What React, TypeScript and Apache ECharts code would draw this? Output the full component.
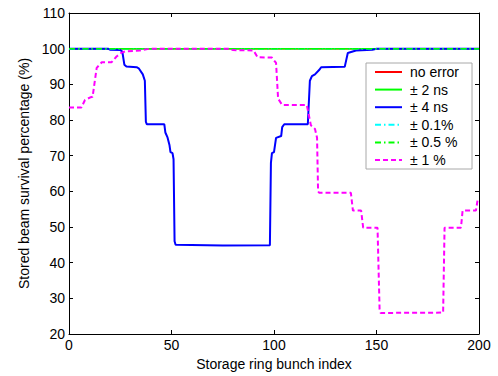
import React, { useEffect, useRef } from "react";
import * as echarts from "echarts";

// ---- Data ----
const xTicks = [0, 50, 100, 150, 200];
const yTicks = [20, 30, 40, 50, 60, 70, 80, 90, 100, 110];

const seriesNames = ["no error", "\u00b1 2 ns", "\u00b1 4 ns", "\u00b1 0.1%", "\u00b1 0.5 %", "\u00b1 1 %"];

// no error
const noErrorX = [0, 200];
const noErrorY = [100, 100];
// ± 2 ns
const ns2X = [0, 200];
const ns2Y = [100, 100];
// ± 4 ns
const ns4X = [0, 19, 20, 25, 26, 27, 28, 33, 34, 36, 37, 37.5, 38, 46.5, 47, 48, 49, 49.5, 50.5, 51, 51.5, 52, 75, 98, 98.5, 99, 100, 101, 103.5, 104, 105, 116.5, 117.5, 118.5, 120, 122, 123, 134.5, 136, 140, 148, 150, 200];
const ns4Y = [100, 100, 99.7, 99.6, 99.2, 95.5, 95, 94.8, 94.5, 92.8, 91, 79.5, 78.8, 78.8, 76.5, 75.2, 73, 71, 70.7, 69, 46, 45, 44.8, 44.9, 68, 70.7, 71, 75, 75.5, 78, 78.8, 78.8, 91, 92.3, 92.8, 94, 94.8, 94.9, 98.8, 99.5, 99.7, 100, 100];
// ± 0.1 %
const pct01X = [0, 200];
const pct01Y = [100, 100];
// ± 0.5 %
const pct05X = [0, 200];
const pct05Y = [100, 100];
// ± 1 %
const pct1X = [0, 6, 7.8, 10.2, 11.5, 13.5, 16, 20.8, 23.2, 25.7, 27.3, 34.6, 39.5, 78, 80, 90, 92, 99, 101, 102, 104, 116, 118, 120, 121, 121.5, 122, 137.5, 138.5, 142.5, 143.5, 150.5, 151.5, 152, 182.5, 183.2, 191.2, 192, 198.5, 199.3, 200];
const pct1Y = [83.5, 83.5, 85.6, 86.3, 86.5, 94.6, 96.2, 96.2, 97.8, 98.9, 99.2, 99.5, 100, 100, 99.6, 99.5, 97.6, 97.5, 96, 86, 84.2, 84.2, 78.5, 77.5, 75, 60, 59.6, 59.6, 54.6, 54.6, 49.8, 49.8, 27, 25.9, 26, 49.8, 49.8, 54.6, 54.6, 57.5, 58];

const colors = ["#ff0000", "#00ff00", "#0000ff", "#00ffff", "#00ff00", "#ff00ff"];

const zip = (xs: number[], ys: number[]) => xs.map((x, i) => [x, ys[i]]);

const FONT = "'Liberation Sans', Arial, Helvetica, sans-serif";

export default function App() {
  const ref = useRef<HTMLDivElement>(null);

  useEffect(() => {
    if (!ref.current) return;
    const chart = echarts.init(ref.current, undefined, { renderer: "svg" });

    const xs = [noErrorX, ns2X, ns4X, pct01X, pct05X, pct1X];
    const ys = [noErrorY, ns2Y, ns4Y, pct01Y, pct05Y, pct1Y];
    const types: any[] = ["solid", "solid", "solid", [6, 3, 1.5, 3], [6, 3, 1.5, 3], [5, 3]];
    const widths = [1.5, 1.5, 2, 1.5, 1.5, 2];

    const series = seriesNames.map((name, i) => ({
      name,
      type: "line",
      data: zip(xs[i], ys[i]),
      symbol: "none",
      showSymbol: false,
      xAxisIndex: 0,
      yAxisIndex: 0,
      lineStyle: { color: colors[i], width: widths[i], type: types[i] },
      itemStyle: { color: colors[i] },
      z: 2 + i,
    }));

    const axisLine = { show: true, onZero: false, lineStyle: { color: "#000", width: 1 } };
    const axisTick = { show: true, inside: true, length: 4, lineStyle: { color: "#000", width: 1 } };

    chart.setOption({
      animation: false,
      textStyle: { fontFamily: FONT },
      grid: { left: 69, top: 13, right: 19, bottom: 40, containLabel: false },
      legend: {
        orient: "vertical",
        left: 366,
        top: 63,
        data: seriesNames,
        itemWidth: 27,
        itemHeight: 14,
        itemGap: 3.6,
        padding: [2, 13, 2, 8],
        backgroundColor: "#fff",
        borderColor: "#a8a8a8",
        borderWidth: 1,
        borderRadius: 0,
        selectedMode: false,
        itemStyle: { color: "transparent", borderWidth: 0, opacity: 0 },
        textStyle: { fontFamily: FONT, fontSize: 14, color: "#000", padding: [0, 0, 0, 3] },
      },
      xAxis: [
        {
          type: "value",
          min: 0,
          max: 200,
          interval: 50,
          position: "bottom",
          name: "Storage ring bunch index",
          nameLocation: "middle",
          nameGap: 23,
          nameTextStyle: { fontFamily: FONT, fontSize: 14, color: "#000" },
          axisLine,
          axisTick,
          axisLabel: { fontFamily: FONT, fontSize: 14, color: "#000", margin: 4 },
          splitLine: { show: false },
        },
        {
          type: "value",
          min: 0,
          max: 200,
          interval: 50,
          position: "top",
          axisLine,
          axisTick,
          axisLabel: { show: false },
          splitLine: { show: false },
        },
      ],
      yAxis: [
        {
          type: "value",
          min: 20,
          max: 110,
          interval: 10,
          position: "left",
          name: "Stored beam survival percentage (%)",
          nameLocation: "middle",
          nameGap: 38,
          nameRotate: 90,
          nameTextStyle: { fontFamily: FONT, fontSize: 14, color: "#000" },
          axisLine,
          axisTick,
          axisLabel: { fontFamily: FONT, fontSize: 14, color: "#000", margin: 4 },
          splitLine: { show: false },
        },
        {
          type: "value",
          min: 20,
          max: 110,
          interval: 10,
          position: "right",
          axisLine,
          axisTick,
          axisLabel: { show: false },
          splitLine: { show: false },
        },
      ],
      series,
    });

    return () => chart.dispose();
  }, []);

  return (
    <div
      ref={ref}
      style={{ position: "fixed", left: 0, top: 0, width: 498, height: 376, background: "#fff" }}
    />
  );
}
